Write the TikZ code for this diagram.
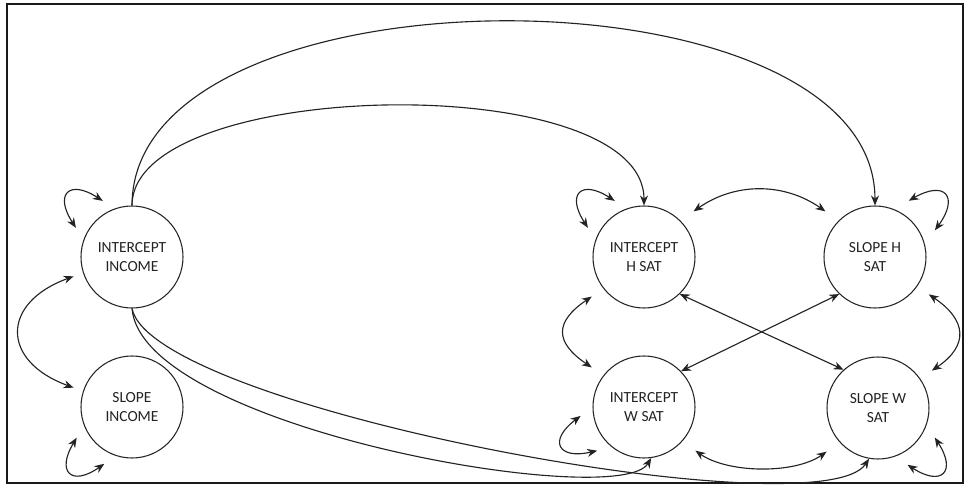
\documentclass[tikz,border=0pt]{standalone}
\usepackage{fontspec}
\setmainfont{Carlito}
\usepackage{tikz}
\usetikzlibrary{arrows.meta,positioning,calc}
\definecolor{frameBlack}{RGB}{25,25,25}
\definecolor{inkDark}{RGB}{35,35,35}
\tikzset{
  latent node/.style={circle,draw=inkDark,line width=0.75pt,minimum size=25.5mm,inner sep=0pt,align=center,text=inkDark,font=\fontsize{11}{13}\selectfont},
  path arrow/.style={-{Stealth[length=2.5mm,width=2mm]},line width=0.8pt,draw=inkDark},
  cov arrow/.style={{Stealth[length=2.5mm,width=2mm]}-{Stealth[length=2.5mm,width=2mm]},line width=0.8pt,draw=inkDark},
  var loop/.style={cov arrow,looseness=2.7}
}

\begin{document}
\begin{tikzpicture}
  \useasboundingbox (0,0) rectangle (24.175,12.225);
  \draw[line width=1.3pt,draw=frameBlack] (0.175,0.15) rectangle (24.075,12.125);

  \node[latent node] (intInc) at (3.30,5.80) {INTERCEPT\\INCOME};
  \node[latent node] (slpInc) at (3.30,2.05) {SLOPE\\INCOME};
  \node[latent node] (intH) at (16.10,5.80) {INTERCEPT\\H SAT};
  \node[latent node] (slpH) at (21.875,5.80) {SLOPE H\\SAT};
  \node[latent node] (intW) at (16.10,2.05) {INTERCEPT\\W SAT};
  \node[latent node] (slpW) at (21.95,2.025) {SLOPE W\\SAT};

  % variances
  \draw[var loop] ($(intInc)+(152.5:1.58)$) to[out=123,in=147] ($(intInc)+(117.5:1.58)$);
  \draw[var loop] ($(slpInc)+(-116:1.58)$) to[out=-145,in=-121] ($(slpInc)+(-151:1.58)$);
  \draw[var loop] ($(intH)+(152.5:1.58)$) to[out=123,in=147] ($(intH)+(117.5:1.58)$);
  \draw[var loop] ($(slpH)+(59:1.64)$) to[out=30,in=54] ($(slpH)+(24:1.64)$);
  \draw[var loop] ($(intW)+(-137:1.6)$) to[out=-167,in=-143] ($(intW)+(-172:1.6)$);
  \draw[var loop] ($(slpW)+(-27.5:1.6)$) to[out=-57,in=-33] ($(slpW)+(-62.5:1.6)$);

  % covariances
  \draw[cov arrow,shorten <=2.5mm,shorten >=2.5mm] (intInc.198) to[out=200,in=160,looseness=1.9] (slpInc.162);
  \draw[cov arrow,shorten <=4mm,shorten >=4mm] (intH.45) to[out=35,in=145,looseness=1.08] (slpH.135);
  \draw[cov arrow,shorten <=3.5mm,shorten >=3.5mm] (intH.218) to[out=214,in=146,looseness=1.75] (intW.142);
  \draw[cov arrow,shorten <=3.5mm,shorten >=3.5mm] (slpH.-35) to[out=-34,in=34,looseness=1.65] (slpW.35);
  \draw[cov arrow,shorten <=4mm,shorten >=4mm] (intW.-42) to[out=-35,in=-145,looseness=0.9] (slpW.-138);
  \draw[cov arrow] (intH.-46) -- (slpW.132);
  \draw[cov arrow] (slpH.-134) -- (intW.44);

  % regressions
  \draw[path arrow] (intInc.north) .. controls +(0,6.13) and +(0,6.13) .. (slpH.north);
  \draw[path arrow] (intInc.north) .. controls +(0,3.2) and +(0,3.45) .. (intH.north);
  \draw[path arrow] (intInc.south) .. controls +(0.25,-3.0) and +(-0.78,-1.33) .. (intW.-82);
  \draw[path arrow] (intInc.south) .. controls +(0.5,-2.5) and +(-1.2,-1.83) .. (slpW.-100);
\end{tikzpicture}
\end{document}
